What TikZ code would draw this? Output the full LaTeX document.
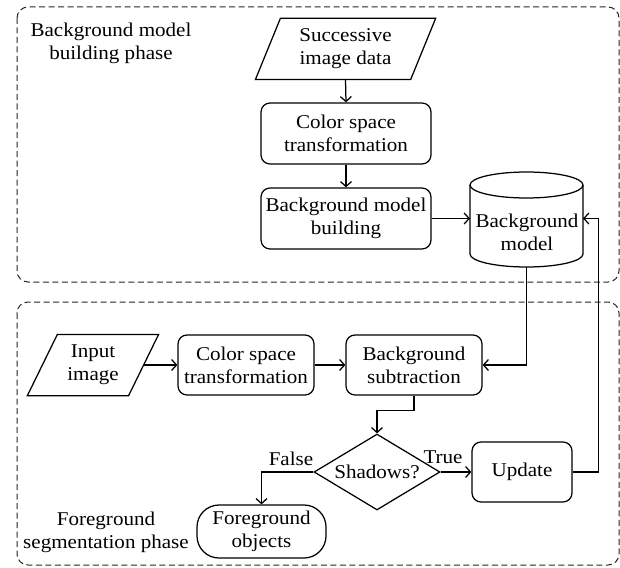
\documentclass[tikz,border=0pt]{standalone}
\usepackage{fontspec}
\setmainfont{Liberation Serif}[FakeStretch=1.08]
\usetikzlibrary{arrows.meta,shapes.geometric}

\begin{document}
\begin{tikzpicture}[x=1pt,y=-1pt,
  line width=1.25pt,
  >={Straight Barb[length=5pt,width=11pt]},
  txt/.style={align=center,font=\fontsize{19.5}{23}\selectfont,inner sep=0pt},
  proc/.style={txt,draw,rounded corners=9pt,minimum height=60pt},
  term/.style={txt,draw,rounded corners=22pt},
  decision/.style={txt,draw,diamond,aspect=1.66},
  phase/.style={draw=black!85,dash pattern=on 6pt off 3.5pt,rounded corners=11pt,line width=1pt},
  flow/.style={->}]
\useasboundingbox (0,0) rectangle (620,567);

% phase frames
\draw[phase] (17,7) rectangle (619,282);
\draw[phase] (17,302) rectangle (619,565);
\node[txt] (phaseA) at (111,43) {Background model\\building phase};
\node[txt] (phaseB) at (106,532) {Foreground\\segmentation phase};

% ---- background model building phase ----
\node[txt,minimum width=179pt,minimum height=60pt] (sid) at (345.5,49) {Successive\\image data};
\draw ([xshift=25pt]sid.north west) -- (sid.north east)
      -- ([xshift=-25pt]sid.south east) -- (sid.south west) -- cycle;
\node[proc,minimum width=170pt,minimum height=61pt] (cst1) at (346,133.5) {Color space\\transformation};
\node[proc,minimum width=170pt,minimum height=61pt] (bmb) at (346,218.5) {Background model\\building};

% database cylinder
\draw (526.5,185) ellipse[x radius=56.5pt, y radius=13pt];
\draw (470,185) -- (470,254) arc[start angle=180,end angle=360,x radius=56.5pt,y radius=13pt] -- (583,185);
\node[txt] (bm) at (527,232) {Background\\model};
\coordinate (bmW) at (470,218.5);
\coordinate (bmE) at (583,218.5);
\coordinate (bmS) at (526.5,267);

\draw[flow] (sid.south) -- (cst1.north);
\draw[flow] (cst1.south) -- (bmb.north);
\draw[flow] (bmb.east) -- (bmW);

% ---- foreground segmentation phase ----
\node[txt,minimum width=130pt,minimum height=60pt] (inp) at (93,365) {Input\\image};
\draw ([xshift=30pt]inp.north west) -- (inp.north east)
      -- ([xshift=-30pt]inp.south east) -- (inp.south west) -- cycle;
\node[proc,minimum width=136pt] (cst2) at (246,365) {Color space\\transformation};
\node[proc,minimum width=136pt] (bs) at (414,365) {Background\\subtraction};
\node[decision,minimum width=126pt,minimum height=76pt] (sh) at (377,472) {Shadows?};
\node[proc,minimum width=100pt] (upd) at (522,472) {Update};
\node[term,minimum width=129pt,minimum height=53pt] (fo) at (261.5,531.5) {Foreground\\objects};
\node[txt] (lblT) at (443,457) {True};
\node[txt] (lblF) at (291,459) {False};

\draw[flow] ([xshift=-15pt]inp.east) -- (cst2.west);
\draw[flow] (cst2.east) -- (bs.west);
\draw[flow] (bmS) |- (bs.east);
\draw[flow] (bs.south) -- ++(0,15) -| (sh.north);
\draw[flow] (sh.east) -- (upd.west);
\draw[flow] (sh.west) -| (fo.north);
\draw[flow] (upd.east) -- ++(26,0) |- (bmE);
\end{tikzpicture}
\end{document}
